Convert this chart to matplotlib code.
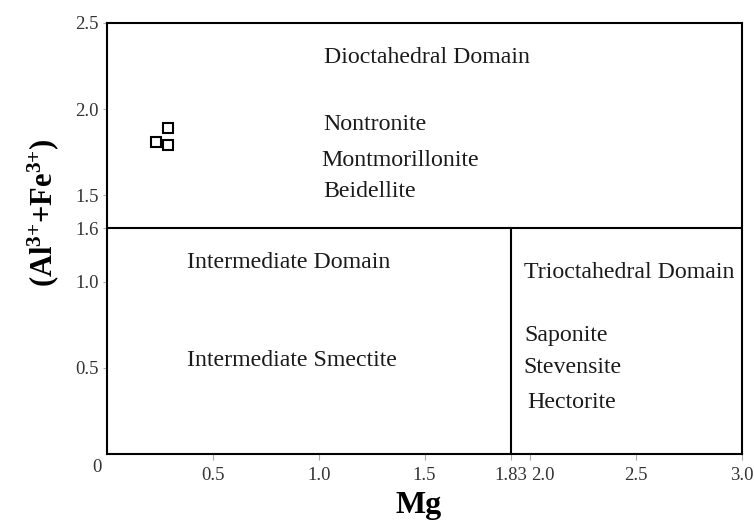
import matplotlib
matplotlib.use("Agg")
import matplotlib.pyplot as plt
import matplotlib.transforms as mtransforms

plt.rcParams['font.family'] = ['Liberation Serif', 'DejaVu Serif']
plt.rcParams['mathtext.fontset'] = 'custom'
plt.rcParams['mathtext.rm'] = 'Liberation Serif'
plt.rcParams['mathtext.bf'] = 'Liberation Serif:bold'

# sample points (Mg, Al3+ + Fe3+)
mg = [0.23, 0.29, 0.29]
alfe = [1.81, 1.89, 1.79]

# domain boundaries as drawn in the source figure (labelled 1.6 and 1.83)
boundary_y = 1.31
boundary_y_label = '1.6'
boundary_x = 1.91
boundary_x_label = '1.83'

x_ticks = [0.5, 1.0, 1.5, 2.0, 2.5, 3.0]
y_ticks = [0.5, 1.0, 1.5, 2.0, 2.5]

# field labels: (text, x, y)
fields = [
    ('Dioctahedral Domain', 1.025, 2.30),
    ('Nontronite', 1.02, 1.91),
    ('Montmorillonite', 1.01, 1.70),
    ('Beidellite', 1.02, 1.52),
    ('Intermediate Domain', 0.38, 1.11),
    ('Intermediate Smectite', 0.38, 0.54),
    ('Trioctahedral Domain', 1.97, 1.05),
    ('Saponite', 1.97, 0.69),
    ('Stevensite', 1.965, 0.50),
    ('Hectorite', 1.985, 0.30),
]

fig = plt.figure(figsize=(7.54, 5.25), dpi=100)
ax = fig.add_axes([107/754, 71/525, 635/754, 431/525])
ax.set_xlim(0, 3.0)
ax.set_ylim(0, 2.5)

for s in ax.spines.values():
    s.set_linewidth(1.5)
    s.set_color('black')

ax.axhline(boundary_y, color='black', lw=1.5)
ax.plot([boundary_x, boundary_x], [0, boundary_y], color='black', lw=1.5)

ax.plot(mg, alfe, 's', ms=7, mfc='white', mec='black', mew=1.5, ls='none')

for txt, x, y in fields:
    ax.text(x, y, txt, fontsize=17.2, color='#1a1a1a', ha='left', va='center')

xt = sorted(x_ticks + [boundary_x])
xl = [boundary_x_label if v == boundary_x else '%.1f' % v for v in xt]
ax.set_xticks(xt)
ax.set_xticklabels(xl)
yt = sorted(y_ticks + [boundary_y])
yl = [boundary_y_label if v == boundary_y else '%.1f' % v for v in yt]
ax.set_yticks(yt)
ax.set_yticklabels(yl)

ax.tick_params(axis='x', direction='out', length=4, width=0.8, color='#aaaaaa',
               labelsize=13.5, labelcolor='#333333', pad=5)
ax.tick_params(axis='y', direction='out', length=3, width=0.8, color='#aaaaaa',
               labelsize=13.5, labelcolor='#333333', pad=3)

# nudge the 2.0 label right, as in the source
for lab in ax.get_xticklabels():
    if lab.get_text() == '2.0':
        lab.set_transform(lab.get_transform() +
                          mtransforms.ScaledTranslation(0.13, 0, fig.dpi_scale_trans))

ax.annotate('0', xy=(0, 0), xytext=(-7, -9.5), textcoords='offset points',
            ha='center', va='center', fontsize=13.5, color='#333333')

ax.set_xlabel('Mg', fontsize=23, fontweight='bold')
ax.xaxis.set_label_coords(0.49, -0.085)
ax.set_ylabel(r'$\mathbf{(Al^{3{+}}{+}Fe^{3{+}})}$', fontsize=22)
ax.yaxis.set_label_coords(-0.072, 0.56)

fig.savefig('out.png', dpi=100)
